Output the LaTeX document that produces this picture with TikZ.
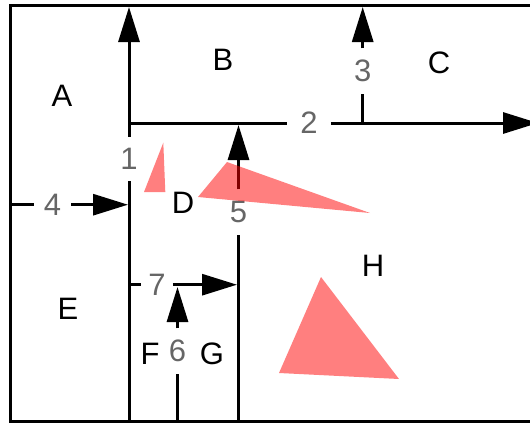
\documentclass[tikz,border=0pt]{standalone}
\usepackage{fontspec}
\setmainfont{Liberation Sans}
\usetikzlibrary{arrows.meta}
\definecolor{numgray}{RGB}{102,102,102}
\definecolor{tri}{RGB}{255,0,0}
\tikzset{
  frameline/.style={line width=3.5pt},
  conn/.style={line width=3pt},
  arr/.style={conn,-{Triangle[length=35pt,width=21pt]}},
  region/.style={font=\fontsize{31}{36}\selectfont, text=black, inner sep=0pt},
  num/.style={font=\fontsize{31}{36}\selectfont, text=numgray, inner xsep=9pt, inner ysep=11.5pt},
  patch/.style={fill=tri, fill opacity=0.5, draw=none}
}
\begin{document}
\begin{tikzpicture}[x=1pt,y=-1pt]
\useasboundingbox (0,0) rectangle (530,424);
\clip (0,0) rectangle (530,424);
\fill[white] (0,0) rectangle (530,424);
% frame
\draw[frameline] (560,5.5) -- (10.5,5.5) -- (10.5,421.5) -- (560,421.5);
% coordinates
\coordinate (s1) at (129,422);
\coordinate (e1) at (129,7);
\coordinate (s2) at (129,123);
\coordinate (e2) at (538,123);
\coordinate (s3) at (362.7,123);
\coordinate (e3) at (362.7,7);
\coordinate (s4) at (10,204.7);
\coordinate (e4) at (128,204.7);
\coordinate (s5) at (238.5,422);
\coordinate (e5) at (238.5,125);
\coordinate (s6) at (177.5,422);
\coordinate (e6) at (177.5,287);
\coordinate (s7) at (129,284.7);
\coordinate (e7) at (237,284.7);
% number labels
\node[num] (n1) at (129,159) {1};
\node[num, inner xsep=13pt] (n2) at (309,123) {2};
\node[num] (n3) at (362.7,71) {3};
\node[num, inner xsep=10pt] (n4) at (52.5,204.7) {4};
\node[num] (n5) at (238.5,212) {5};
\node[num] (n6) at (177.5,351) {6};
\node[num, inner xsep=7pt] (n7) at (157,284.7) {7};
% connectors
\draw[conn] (s1) -- (n1);
\draw[arr] (n1) -- (e1);
\draw[conn] (s2) -- (n2);
\draw[arr] (n2) -- (e2);
\draw[conn] (s3) -- (n3);
\draw[arr] (n3) -- (e3);
\draw[conn] (s4) -- (n4);
\draw[arr] (n4) -- (e4);
\draw[conn] (s5) -- (n5);
\draw[arr] (n5) -- (e5);
\draw[conn] (s6) -- (n6);
\draw[arr] (n6) -- (e6);
\draw[conn] (s7) -- (n7);
\draw[arr] (n7) -- (e7);
% region labels
\node[region] (A) at (62,96) {A};
\node[region] (B) at (223,60) {B};
\node[region] (C) at (439,63) {C};
\node[region] (D) at (183,203) {D};
\node[region] (E) at (68,309) {E};
\node[region] (F) at (150,354) {F};
\node[region] (G) at (212,354) {G};
\node[region] (H) at (373,266) {H};
% red patches
\fill[patch] (163.3,142.7) -- (144,192) -- (165.3,192) -- cycle;
\fill[patch] (198,197) -- (227,162) -- (370,213) -- cycle;
\fill[patch] (321,277) -- (279,373) -- (399,379) -- cycle;
\end{tikzpicture}
\end{document}
